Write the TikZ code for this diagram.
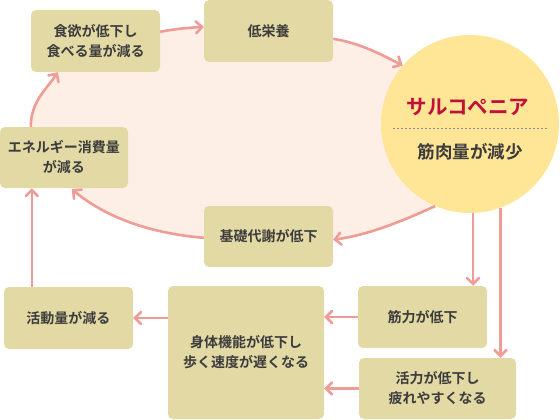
\documentclass[tikz,border=0pt]{standalone}
\usepackage{fontspec}
\setmainfont{Noto Sans CJK JP}[BoldFont={Noto Sans CJK JP Bold}]
\usetikzlibrary{arrows.meta,calc}
\definecolor{boxfill}{HTML}{E3D9A5}
\definecolor{circfill}{HTML}{FFE596}
\definecolor{ellfill}{HTML}{FDEFE5}
\definecolor{arrowc}{HTML}{EE9C95}
\definecolor{titlec}{HTML}{C0103A}
\definecolor{textc}{HTML}{3C3C3C}
\definecolor{dashc}{HTML}{8A8AA8}
\pgfdeclarelayer{background}
\pgfsetlayers{background,main}
\begin{document}
\begin{tikzpicture}[x=1pt,y=-1pt,
  box/.style={rectangle,rounded corners=5pt,fill=boxfill,inner sep=0pt,
    minimum width=129pt,minimum height=62pt,align=center,
    font=\fontsize{14}{20}\selectfont\bfseries,text=textc},
  conn/.style={draw=arrowc,line width=2.6pt,
    -{Straight Barb[length=6pt,width=12pt,line cap=round]}}]
\useasboundingbox (0,0) rectangle (560,420);
% nodes
\node[circle,minimum size=178pt,inner sep=0pt,fill=circfill] (sarc) at (470,124) {};
\node[box] (food) at (95.5,41) {食欲が低下し\\食べる量が減る};
\node[box] (nutr) at (268.5,31) {低栄養};
\node[box,minimum width=128pt,minimum height=61pt] (energy) at (64,157.5) {エネルギー消費量\\が減る};
\node[box,minimum height=61pt] (basal) at (268.5,236.5) {基礎代謝が低下};
\node[box] (activity) at (68.5,318) {活動量が減る};
\node[box,minimum width=156pt,minimum height=133pt] (body) at (246,352.5) {身体機能が低下し\\歩く速度が遅くなる};
\node[box] (strength) at (422.5,317) {筋力が低下};
\node[box,minimum width=157pt,minimum height=61pt] (vital) at (437.5,388.5) {活力が低下し\\疲れやすくなる};
\node[font=\fontsize{20.5}{24}\selectfont\bfseries,text=titlec] (title) at ($(sarc.center)+(-2,-17)$) {サルコペニア};
\node[font=\fontsize{17.5}{20}\selectfont\bfseries,text=textc] (sub) at ($(sarc.center)+(0,28)$) {筋肉量が減少};
\draw[dashc,line width=1pt,dash pattern=on 2pt off 2pt] ($(sarc.center)+(-77,4)$) -- ($(sarc.center)+(77,4)$);
% coordinates of the cycle
\coordinate (a5s) at ($(energy.north west)+(31,0)$);
\coordinate (a5e) at ($(food.south west)+(27,0)$);
\coordinate (a1s) at ($(food.north east)+(0,22)$);
\coordinate (a1e) at ($(nutr.north west)+(0,27)$);
\coordinate (a2s) at ($(nutr.north east)+(0,39)$);
\coordinate (a2e) at (sarc.139);
\coordinate (a3s) at (sarc.247);
\coordinate (a3e) at ($(basal.north east)+(0,34)$);
\coordinate (a4s) at ($(basal.north west)+(0,32)$);
\coordinate (a4e) at ($(energy.south west)+(72,1)$);
% pale area of the cycle
\begin{pgfonlayer}{background}
\fill[ellfill] (a5s) .. controls +(0,-25) and +(-12,18) .. (a5e) -- (a1s)
  .. controls +(15,-3) and +(-15,1) .. (a1e) -- (a2s)
  .. controls +(25,4) and +(-25,-13) .. (a2e) -- (a3s)
  .. controls +(-35,16) and +(35,-5) .. (a3e) -- (a4s)
  .. controls +(-60,-5) and +(30,25) .. (a4e) -- cycle;
\end{pgfonlayer}
% connectors
\draw[conn] (a5s) .. controls +(0,-25) and +(-12,18) .. (a5e);
\draw[conn] (a1s) .. controls +(15,-3) and +(-15,1) .. (a1e);
\draw[conn] (a2s) .. controls +(25,4) and +(-25,-13) .. (a2e);
\draw[conn] (a3s) .. controls +(-35,16) and +(35,-5) .. (a3e);
\draw[conn] (a4s) .. controls +(-60,-5) and +(30,25) .. (a4e);
\draw[conn] ($(activity.north west)+(28,0)$) -- ($(energy.south west)+(32,0)$);
\draw[conn] (body.west |- activity.east) -- (activity.east);
\draw[conn] (strength.west) -- (strength.west -| body.east);
\draw[conn] (vital.west) -- (vital.west -| body.east);
\draw[conn] (sarc.272) -- (sarc.272 |- strength.north);
\draw[conn] (sarc.290) -- (sarc.290 |- vital.north);
\end{tikzpicture}
\end{document}
